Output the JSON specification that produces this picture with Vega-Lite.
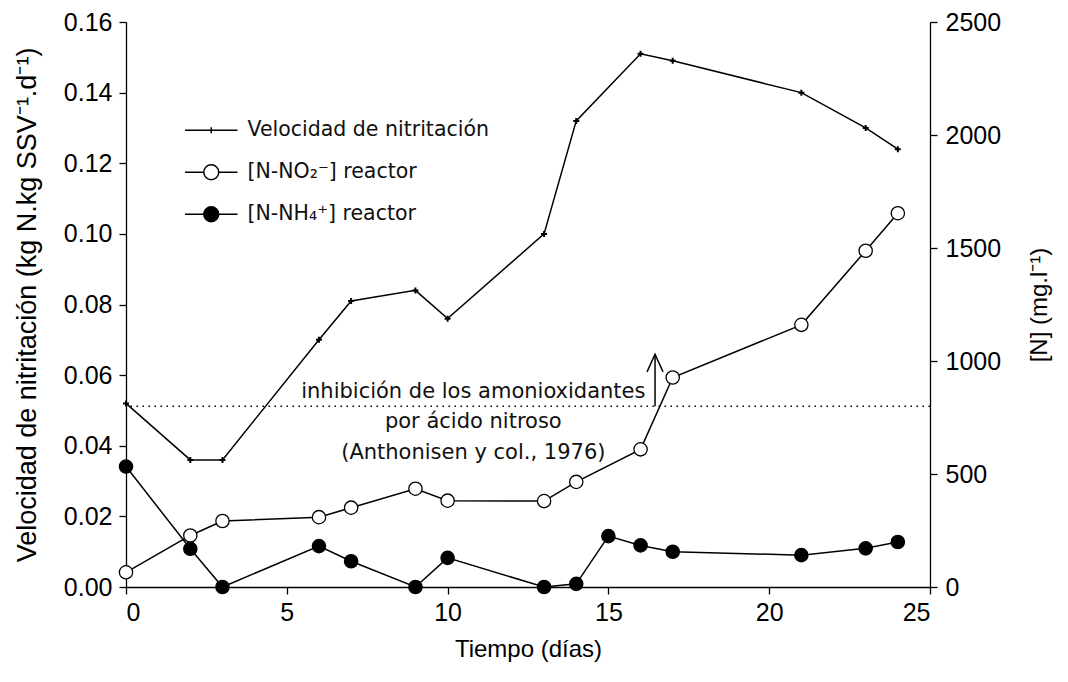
{
  "$schema": "https://vega.github.io/schema/vega-lite/v6.json",
  "width": 804,
  "height": 565,
  "autosize": {"type": "none"},
  "padding": {"left": 126, "top": 22, "right": 138, "bottom": 95},
  "background": "white",
  "config": {
    "view": {"stroke": null},
    "axis": {
      "grid": false,
      "domainColor": "black",
      "domainWidth": 1.3,
      "tickColor": "black",
      "tickWidth": 1.3,
      "tickSize": 7,
      "labelColor": "black",
      "titleColor": "black",
      "labelFont": "Liberation Sans",
      "titleFont": "Liberation Sans",
      "labelFontSize": 25,
      "titleFontSize": 24,
      "titleFontWeight": "normal"
    }
  },
  "datasets": {
    "velocidad": [
      {"dia": 0, "valor": 0.052, "serie": "Velocidad de nitritación"},
      {"dia": 2, "valor": 0.036, "serie": "Velocidad de nitritación"},
      {"dia": 3, "valor": 0.036, "serie": "Velocidad de nitritación"},
      {"dia": 6, "valor": 0.070, "serie": "Velocidad de nitritación"},
      {"dia": 7, "valor": 0.081, "serie": "Velocidad de nitritación"},
      {"dia": 9, "valor": 0.084, "serie": "Velocidad de nitritación"},
      {"dia": 10, "valor": 0.076, "serie": "Velocidad de nitritación"},
      {"dia": 13, "valor": 0.100, "serie": "Velocidad de nitritación"},
      {"dia": 14, "valor": 0.132, "serie": "Velocidad de nitritación"},
      {"dia": 16, "valor": 0.151, "serie": "Velocidad de nitritación"},
      {"dia": 17, "valor": 0.149, "serie": "Velocidad de nitritación"},
      {"dia": 21, "valor": 0.140, "serie": "Velocidad de nitritación"},
      {"dia": 23, "valor": 0.130, "serie": "Velocidad de nitritación"},
      {"dia": 24, "valor": 0.124, "serie": "Velocidad de nitritación"}
    ],
    "nitrogeno": [
      {"dia": 0, "valor": 65, "serie": "[N-NO₂⁻] reactor"},
      {"dia": 2, "valor": 228, "serie": "[N-NO₂⁻] reactor"},
      {"dia": 3, "valor": 292, "serie": "[N-NO₂⁻] reactor"},
      {"dia": 6, "valor": 309, "serie": "[N-NO₂⁻] reactor"},
      {"dia": 7, "valor": 351, "serie": "[N-NO₂⁻] reactor"},
      {"dia": 9, "valor": 435, "serie": "[N-NO₂⁻] reactor"},
      {"dia": 10, "valor": 382, "serie": "[N-NO₂⁻] reactor"},
      {"dia": 13, "valor": 380, "serie": "[N-NO₂⁻] reactor"},
      {"dia": 14, "valor": 465, "serie": "[N-NO₂⁻] reactor"},
      {"dia": 16, "valor": 609, "serie": "[N-NO₂⁻] reactor"},
      {"dia": 17, "valor": 927, "serie": "[N-NO₂⁻] reactor"},
      {"dia": 21, "valor": 1160, "serie": "[N-NO₂⁻] reactor"},
      {"dia": 23, "valor": 1488, "serie": "[N-NO₂⁻] reactor"},
      {"dia": 24, "valor": 1654, "serie": "[N-NO₂⁻] reactor"},
      {"dia": 0, "valor": 533, "serie": "[N-NH₄⁺] reactor"},
      {"dia": 2, "valor": 169, "serie": "[N-NH₄⁺] reactor"},
      {"dia": 3, "valor": 0, "serie": "[N-NH₄⁺] reactor"},
      {"dia": 6, "valor": 181, "serie": "[N-NH₄⁺] reactor"},
      {"dia": 7, "valor": 114, "serie": "[N-NH₄⁺] reactor"},
      {"dia": 9, "valor": 0, "serie": "[N-NH₄⁺] reactor"},
      {"dia": 10, "valor": 129, "serie": "[N-NH₄⁺] reactor"},
      {"dia": 13, "valor": 0, "serie": "[N-NH₄⁺] reactor"},
      {"dia": 14, "valor": 14, "serie": "[N-NH₄⁺] reactor"},
      {"dia": 15, "valor": 225, "serie": "[N-NH₄⁺] reactor"},
      {"dia": 16, "valor": 184, "serie": "[N-NH₄⁺] reactor"},
      {"dia": 17, "valor": 156, "serie": "[N-NH₄⁺] reactor"},
      {"dia": 21, "valor": 141, "serie": "[N-NH₄⁺] reactor"},
      {"dia": 23, "valor": 171, "serie": "[N-NH₄⁺] reactor"},
      {"dia": 24, "valor": 199, "serie": "[N-NH₄⁺] reactor"}
    ],
    "series": [
      {"serie": "Velocidad de nitritación"},
      {"serie": "[N-NO₂⁻] reactor"},
      {"serie": "[N-NH₄⁺] reactor"}
    ]
  },
  "layer": [
    {
      "data": {"name": "velocidad"},
      "encoding": {
        "x": {
          "field": "dia",
          "type": "quantitative",
          "title": "Tiempo (días)",
          "scale": {"domain": [0, 25], "nice": false, "zero": false},
          "axis": {
            "values": [0, 5, 10, 15, 20, 25],
            "labelPadding": 6,
            "titlePadding": 12
          }
        },
        "y": {
          "field": "valor",
          "type": "quantitative",
          "title": "Velocidad de nitritación (kg N.kg SSV⁻¹.d⁻¹)",
          "scale": {"domain": [0, 0.16], "nice": false},
          "axis": {
            "values": [0, 0.02, 0.04, 0.06, 0.08, 0.1, 0.12, 0.14, 0.16],
            "format": ".2f",
            "labelPadding": 7,
            "titlePadding": 22,
            "titleFontSize": 27
          }
        }
      },
      "layer": [
        {"mark": {"type": "line", "color": "black", "strokeWidth": 1.5}},
        {
          "mark": {
            "type": "point",
            "shape": "M-1,0H1M0,-1V1",
            "size": 36,
            "stroke": "black",
            "strokeWidth": 2,
            "fill": "black",
            "opacity": 1
          }
        }
      ]
    },
    {
      "data": {"name": "nitrogeno"},
      "encoding": {
        "x": {"field": "dia", "type": "quantitative", "title": "Tiempo (días)"},
        "y": {
          "field": "valor",
          "type": "quantitative",
          "title": "[N] (mg.l⁻¹)",
          "scale": {"domain": [0, 2500], "nice": false},
          "axis": {
            "orient": "right",
            "values": [0, 500, 1000, 1500, 2000, 2500],
            "format": "d",
            "labelPadding": 8,
            "titlePadding": 27,
            "titleAngle": 270,
            "titleBaseline": "top"
          }
        }
      },
      "layer": [
        {
          "mark": {"type": "line", "color": "black", "strokeWidth": 1.5},
          "encoding": {"detail": {"field": "serie", "type": "nominal"}}
        },
        {
          "mark": {"type": "point", "shape": "circle", "size": 177, "stroke": "black", "strokeWidth": 1.3, "opacity": 1, "filled": true},
          "encoding": {
            "fill": {
              "condition": {"test": "datum.serie === '[N-NO₂⁻] reactor'", "value": "white"},
              "value": "black"
            }
          }
        }
      ]
    },
    {
      "data": {"values": [{"nivel": 800}]},
      "mark": {"type": "rule", "color": "black", "strokeWidth": 1.5, "strokeDash": [1.5, 4.5]},
      "encoding": {
        "y": {
          "field": "nivel",
          "type": "quantitative",
          "title": "[N] (mg.l⁻¹)",
          "scale": {"domain": [0, 2500], "nice": false},
          "axis": null
        }
      }
    },
    {
      "data": {"values": [{"dia": 16.45, "desde": 800, "hasta": 1030}]},
      "encoding": {
        "x": {"field": "dia", "type": "quantitative", "title": "Tiempo (días)"}
      },
      "layer": [
        {
          "mark": {"type": "rule", "color": "black", "strokeWidth": 1.5},
          "encoding": {
            "y": {"field": "desde", "type": "quantitative", "scale": {"domain": [0, 2500], "nice": false}, "axis": null},
            "y2": {"field": "hasta"}
          }
        },
        {
          "mark": {"type": "point", "shape": "M-1,2.2L0,0L1,2.2", "size": 256, "stroke": "black", "strokeWidth": 1.5, "filled": false, "opacity": 1},
          "encoding": {
            "y": {"field": "hasta", "type": "quantitative", "scale": {"domain": [0, 2500], "nice": false}, "axis": null}
          }
        }
      ]
    },
    {
      "data": {"values": [{"dia": 10.8, "nivel": 863}]},
      "mark": {
        "type": "text",
        "text": ["inhibición de los amonioxidantes", "por ácido nitroso", "(Anthonisen y col., 1976)"],
        "font": "DejaVu Sans",
        "fontSize": 21,
        "lineHeight": 30.5,
        "align": "center",
        "baseline": "middle",
        "color": "#111111"
      },
      "encoding": {
        "x": {"field": "dia", "type": "quantitative", "title": "Tiempo (días)"},
        "y": {"field": "nivel", "type": "quantitative", "scale": {"domain": [0, 2500], "nice": false}, "axis": null}
      }
    },
    {
      "data": {"name": "series"},
      "mark": {"type": "point", "filled": false, "stroke": "black", "strokeWidth": 1.5, "size": 0, "opacity": 1},
      "encoding": {
        "shape": {
          "field": "serie",
          "type": "nominal",
          "scale": {
            "domain": ["Velocidad de nitritación", "[N-NO₂⁻] reactor", "[N-NH₄⁺] reactor"],
            "range": [
              "M-3.5,0H3.5M0,-0.4V0.4M-0.4,0H0.4",
              "M-3.5,0H-1A1,1 0 1,1 1,0A1,1 0 1,1 -1,0M1,0H3.5",
              "M-3.5,0H-1A1,1 0 1,1 1,0A1,1 0 1,1 -1,0M1,0H3.5"
            ]
          },
          "legend": {
            "title": null,
            "orient": "none",
            "legendX": 75,
            "legendY": 98,
            "symbolSize": 225,
            "symbolStrokeWidth": 1.5,
            "labelFont": "DejaVu Sans",
            "labelFontSize": 20.5,
            "labelColor": "#111111",
            "labelOffset": 26,
            "labelLimit": 400,
            "rowPadding": 20,
            "padding": 0
          }
        },
        "fill": {
          "field": "serie",
          "type": "nominal",
          "scale": {
            "domain": ["Velocidad de nitritación", "[N-NO₂⁻] reactor", "[N-NH₄⁺] reactor"],
            "range": ["black", "white", "black"]
          },
          "legend": {
            "title": null,
            "orient": "none",
            "legendX": 75,
            "legendY": 98,
            "symbolSize": 225,
            "symbolStrokeWidth": 1.5,
            "labelFont": "DejaVu Sans",
            "labelFontSize": 20.5,
            "labelColor": "#111111",
            "labelOffset": 26,
            "labelLimit": 400,
            "rowPadding": 20,
            "padding": 0
          }
        }
      }
    }
  ],
  "resolve": {"scale": {"y": "independent"}}
}
